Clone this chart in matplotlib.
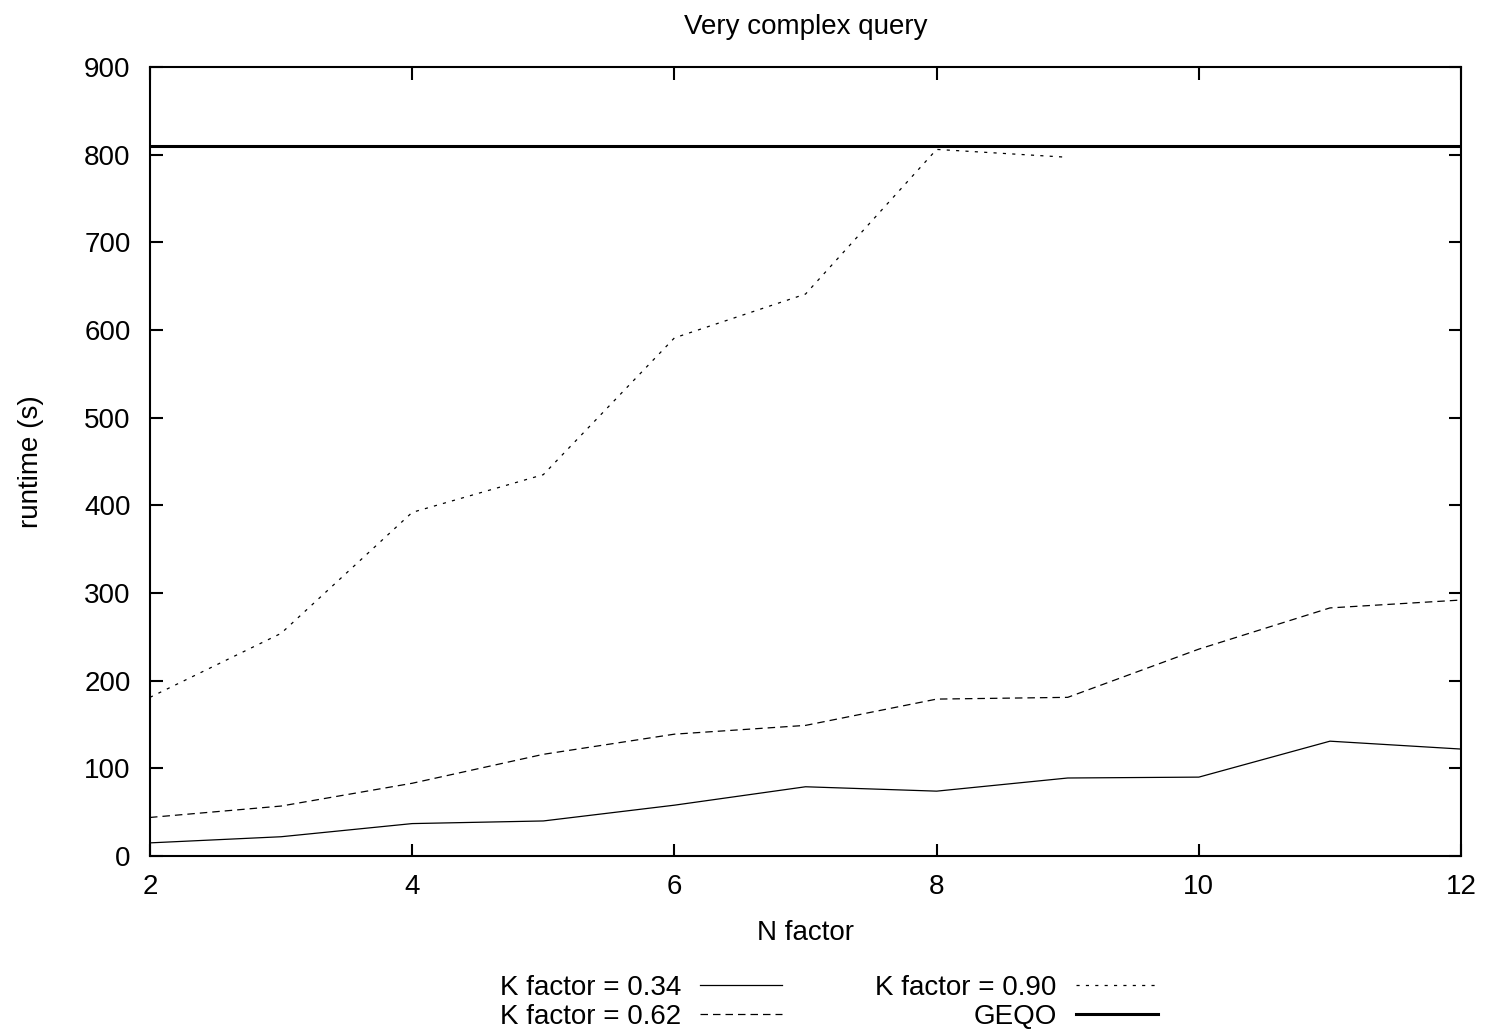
import matplotlib
matplotlib.use("Agg")
import matplotlib.pyplot as plt

plt.rcParams["font.family"] = ["Liberation Sans", "DejaVu Sans"]

n_factor = [2, 3, 4, 5, 6, 7, 8, 9, 10, 11, 12]
k034 = [15, 22, 37, 40, 58, 79, 74, 89, 90, 131, 122]
k062 = [44, 57, 83, 116, 139, 149, 179, 181, 236, 283, 292]
n_factor_k090 = [2, 3, 4, 5, 6, 7, 8, 9]
k090 = [181, 254, 392, 435, 591, 641, 806, 797]
geqo = 810

fs = 20

fig = plt.figure(figsize=(14.88, 10.29), dpi=100)
ax = fig.add_axes([0.1008, 0.1681, 0.8811, 0.7668])

l1, = ax.plot(n_factor, k034, color="black", lw=0.9, label="K factor = 0.34")
l2, = ax.plot(n_factor, k062, color="black", lw=0.9, dashes=(6, 4), label="K factor = 0.62")
l3, = ax.plot(n_factor_k090, k090, color="black", lw=0.9, dashes=(2.5, 5), label="K factor = 0.90")
l4 = ax.axhline(geqo, color="black", lw=2.2, label="GEQO")

ax.set_xlim(2, 12)
ax.set_ylim(0, 900)
ax.set_xticks(range(2, 13, 2))
ax.set_yticks(range(0, 901, 100))
ax.tick_params(direction="in", length=9, width=1.5, top=True, right=True,
               labelsize=fs)
ax.tick_params(axis="x", pad=13)
ax.tick_params(axis="y", pad=14)
for s in ax.spines.values():
    s.set_linewidth(1.5)

ax.set_title("Very complex query", fontsize=fs, pad=24)
ax.set_xlabel("N factor", fontsize=fs, labelpad=14)
ax.set_ylabel("runtime (s)", fontsize=fs, labelpad=29)

fig.legend(handles=[l1, l2, l3, l4], ncol=2, markerfirst=False, frameon=False,
           loc="lower center", bbox_to_anchor=(0.557, -0.014), fontsize=fs,
           borderpad=0, handlelength=2.95, handletextpad=0.68,
           columnspacing=3.35, labelspacing=0.1)

fig.savefig("out.png", dpi=100)
